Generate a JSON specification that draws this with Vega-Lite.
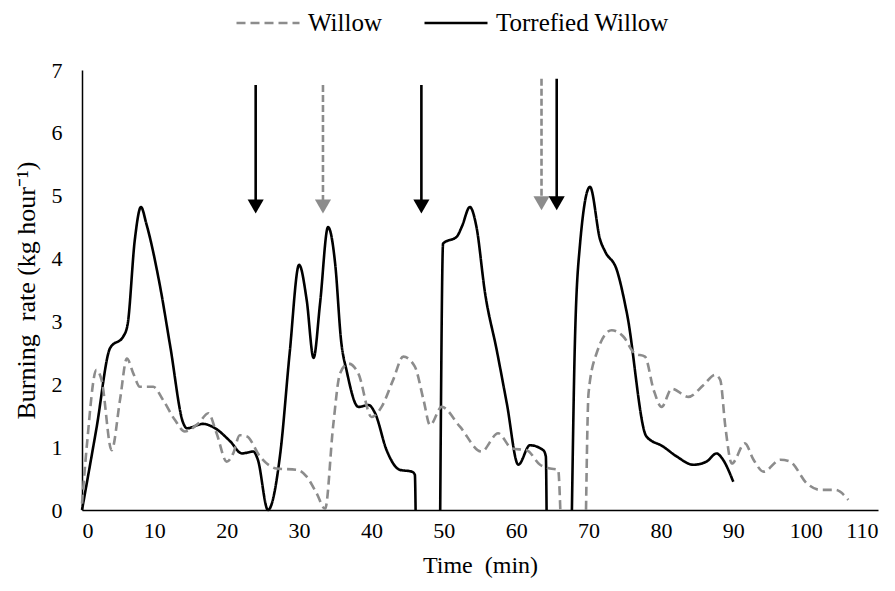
{
  "$schema": "https://vega.github.io/schema/vega-lite/v6.json",
  "width": 796,
  "height": 440,
  "autosize": {"type": "none"},
  "padding": {"left": 82, "top": 70, "right": 17, "bottom": 81},
  "background": "white",
  "config": {
    "view": {"stroke": null},
    "font": "Liberation Serif",
    "axis": {
      "labelFont": "Liberation Serif",
      "titleFont": "Liberation Serif",
      "labelColor": "#000",
      "titleColor": "#000",
      "grid": false,
      "ticks": false,
      "domainColor": "#000",
      "domainWidth": 1.5,
      "titleFontWeight": "normal"
    },
    "legend": {
      "labelFont": "Liberation Serif",
      "labelFontSize": 25,
      "labelColor": "#000",
      "labelLimit": 0,
      "symbolType": "stroke",
      "symbolSize": 3969,
      "symbolStrokeWidth": 2.6,
      "columnPadding": 37,
      "labelOffset": 7,
      "padding": 0
    }
  },
  "datasets": {
    "curves": [
      {"t": 0, "rate": 0, "series": "Torrefied Willow", "part": 1},
      {"t": 2, "rate": 1.3, "series": "Torrefied Willow", "part": 1},
      {"t": 3.9, "rate": 2.58, "series": "Torrefied Willow", "part": 1},
      {"t": 5.7, "rate": 2.76, "series": "Torrefied Willow", "part": 1},
      {"t": 6.3, "rate": 2.95, "series": "Torrefied Willow", "part": 1},
      {"t": 7.3, "rate": 4.3, "series": "Torrefied Willow", "part": 1},
      {"t": 8.15, "rate": 4.82, "series": "Torrefied Willow", "part": 1},
      {"t": 8.9, "rate": 4.55, "series": "Torrefied Willow", "part": 1},
      {"t": 10.8, "rate": 3.55, "series": "Torrefied Willow", "part": 1},
      {"t": 12.2, "rate": 2.6, "series": "Torrefied Willow", "part": 1},
      {"t": 14.0, "rate": 1.38, "series": "Torrefied Willow", "part": 1},
      {"t": 14.5, "rate": 1.3, "series": "Torrefied Willow", "part": 1},
      {"t": 16.7, "rate": 1.37, "series": "Torrefied Willow", "part": 1},
      {"t": 18.4, "rate": 1.3, "series": "Torrefied Willow", "part": 1},
      {"t": 20.5, "rate": 1.09, "series": "Torrefied Willow", "part": 1},
      {"t": 22.1, "rate": 0.9, "series": "Torrefied Willow", "part": 1},
      {"t": 23.7, "rate": 0.93, "series": "Torrefied Willow", "part": 1},
      {"t": 24.3, "rate": 0.8, "series": "Torrefied Willow", "part": 1},
      {"t": 25.7, "rate": 0, "series": "Torrefied Willow", "part": 1},
      {"t": 27.4, "rate": 0.9, "series": "Torrefied Willow", "part": 1},
      {"t": 28.7, "rate": 2.5, "series": "Torrefied Willow", "part": 1},
      {"t": 30.0, "rate": 3.9, "series": "Torrefied Willow", "part": 1},
      {"t": 31.05, "rate": 3.34, "series": "Torrefied Willow", "part": 1},
      {"t": 32.0, "rate": 2.42, "series": "Torrefied Willow", "part": 1},
      {"t": 32.9, "rate": 3.29, "series": "Torrefied Willow", "part": 1},
      {"t": 34.0, "rate": 4.5, "series": "Torrefied Willow", "part": 1},
      {"t": 35.0, "rate": 3.9, "series": "Torrefied Willow", "part": 1},
      {"t": 35.8, "rate": 2.7, "series": "Torrefied Willow", "part": 1},
      {"t": 36.6, "rate": 2.2, "series": "Torrefied Willow", "part": 1},
      {"t": 38.2, "rate": 1.64, "series": "Torrefied Willow", "part": 1},
      {"t": 39.6, "rate": 1.67, "series": "Torrefied Willow", "part": 1},
      {"t": 40.5, "rate": 1.54, "series": "Torrefied Willow", "part": 1},
      {"t": 42.1, "rate": 0.95, "series": "Torrefied Willow", "part": 1},
      {"t": 43.9, "rate": 0.64, "series": "Torrefied Willow", "part": 1},
      {"t": 45.6, "rate": 0.61, "series": "Torrefied Willow", "part": 1},
      {"t": 46.0, "rate": 0.56, "series": "Torrefied Willow", "part": 1},
      {"t": 46.1, "rate": 0, "series": "Torrefied Willow", "part": 1},
      {"t": 49.5, "rate": 0, "series": "Torrefied Willow", "part": 2},
      {"t": 49.9, "rate": 4.24, "series": "Torrefied Willow", "part": 2},
      {"t": 51.8, "rate": 4.35, "series": "Torrefied Willow", "part": 2},
      {"t": 52.5, "rate": 4.51, "series": "Torrefied Willow", "part": 2},
      {"t": 53.6, "rate": 4.82, "series": "Torrefied Willow", "part": 2},
      {"t": 54.5, "rate": 4.51, "series": "Torrefied Willow", "part": 2},
      {"t": 55.7, "rate": 3.45, "series": "Torrefied Willow", "part": 2},
      {"t": 57.3, "rate": 2.55, "series": "Torrefied Willow", "part": 2},
      {"t": 58.7, "rate": 1.7, "series": "Torrefied Willow", "part": 2},
      {"t": 60.3, "rate": 0.72, "series": "Torrefied Willow", "part": 2},
      {"t": 61.9, "rate": 1.03, "series": "Torrefied Willow", "part": 2},
      {"t": 63.75, "rate": 0.95, "series": "Torrefied Willow", "part": 2},
      {"t": 64.1, "rate": 0.85, "series": "Torrefied Willow", "part": 2},
      {"t": 64.2, "rate": 0, "series": "Torrefied Willow", "part": 2},
      {"t": 67.7, "rate": 0, "series": "Torrefied Willow", "part": 3},
      {"t": 68.1, "rate": 2.6, "series": "Torrefied Willow", "part": 3},
      {"t": 68.8, "rate": 4.2, "series": "Torrefied Willow", "part": 3},
      {"t": 70.2, "rate": 5.14, "series": "Torrefied Willow", "part": 3},
      {"t": 71.6, "rate": 4.3, "series": "Torrefied Willow", "part": 3},
      {"t": 72.3, "rate": 4.11, "series": "Torrefied Willow", "part": 3},
      {"t": 73.9, "rate": 3.82, "series": "Torrefied Willow", "part": 3},
      {"t": 75.3, "rate": 3.13, "series": "Torrefied Willow", "part": 3},
      {"t": 78.0, "rate": 1.17, "series": "Torrefied Willow", "part": 3},
      {"t": 80.3, "rate": 1.01, "series": "Torrefied Willow", "part": 3},
      {"t": 82.2, "rate": 0.85, "series": "Torrefied Willow", "part": 3},
      {"t": 84.5, "rate": 0.72, "series": "Torrefied Willow", "part": 3},
      {"t": 86.3, "rate": 0.77, "series": "Torrefied Willow", "part": 3},
      {"t": 87.7, "rate": 0.9, "series": "Torrefied Willow", "part": 3},
      {"t": 88.4, "rate": 0.83, "series": "Torrefied Willow", "part": 3},
      {"t": 90.0, "rate": 0.45, "series": "Torrefied Willow", "part": 3},
      {"t": 0, "rate": 0.1, "series": "Willow", "part": 1},
      {"t": 0.65, "rate": 1.0, "series": "Willow", "part": 1},
      {"t": 2.0, "rate": 2.23, "series": "Willow", "part": 1},
      {"t": 2.7, "rate": 2.07, "series": "Willow", "part": 1},
      {"t": 4.1, "rate": 0.95, "series": "Willow", "part": 1},
      {"t": 5.25, "rate": 1.75, "series": "Willow", "part": 1},
      {"t": 6.2, "rate": 2.41, "series": "Willow", "part": 1},
      {"t": 7.1, "rate": 2.17, "series": "Willow", "part": 1},
      {"t": 8.0, "rate": 1.96, "series": "Willow", "part": 1},
      {"t": 9.85, "rate": 1.96, "series": "Willow", "part": 1},
      {"t": 11.2, "rate": 1.75, "series": "Willow", "part": 1},
      {"t": 12.85, "rate": 1.43, "series": "Willow", "part": 1},
      {"t": 14.2, "rate": 1.25, "series": "Willow", "part": 1},
      {"t": 16.1, "rate": 1.38, "series": "Willow", "part": 1},
      {"t": 17.45, "rate": 1.54, "series": "Willow", "part": 1},
      {"t": 18.6, "rate": 1.22, "series": "Willow", "part": 1},
      {"t": 20.0, "rate": 0.77, "series": "Willow", "part": 1},
      {"t": 20.9, "rate": 0.9, "series": "Willow", "part": 1},
      {"t": 21.8, "rate": 1.19, "series": "Willow", "part": 1},
      {"t": 22.8, "rate": 1.17, "series": "Willow", "part": 1},
      {"t": 24.6, "rate": 0.85, "series": "Willow", "part": 1},
      {"t": 26.9, "rate": 0.66, "series": "Willow", "part": 1},
      {"t": 29.7, "rate": 0.64, "series": "Willow", "part": 1},
      {"t": 31.05, "rate": 0.53, "series": "Willow", "part": 1},
      {"t": 32.4, "rate": 0.27, "series": "Willow", "part": 1},
      {"t": 33.6, "rate": 0.02, "series": "Willow", "part": 1},
      {"t": 34.7, "rate": 1.33, "series": "Willow", "part": 1},
      {"t": 35.65, "rate": 2.17, "series": "Willow", "part": 1},
      {"t": 36.8, "rate": 2.33, "series": "Willow", "part": 1},
      {"t": 38.2, "rate": 2.17, "series": "Willow", "part": 1},
      {"t": 40.0, "rate": 1.48, "series": "Willow", "part": 1},
      {"t": 41.4, "rate": 1.64, "series": "Willow", "part": 1},
      {"t": 43.0, "rate": 2.07, "series": "Willow", "part": 1},
      {"t": 44.4, "rate": 2.44, "series": "Willow", "part": 1},
      {"t": 46.0, "rate": 2.28, "series": "Willow", "part": 1},
      {"t": 47.2, "rate": 1.75, "series": "Willow", "part": 1},
      {"t": 48.1, "rate": 1.35, "series": "Willow", "part": 1},
      {"t": 49.7, "rate": 1.64, "series": "Willow", "part": 1},
      {"t": 52.2, "rate": 1.33, "series": "Willow", "part": 1},
      {"t": 55.2, "rate": 0.93, "series": "Willow", "part": 1},
      {"t": 57.5, "rate": 1.22, "series": "Willow", "part": 1},
      {"t": 59.4, "rate": 0.98, "series": "Willow", "part": 1},
      {"t": 61.45, "rate": 0.95, "series": "Willow", "part": 1},
      {"t": 63.3, "rate": 0.72, "series": "Willow", "part": 1},
      {"t": 64.7, "rate": 0.66, "series": "Willow", "part": 1},
      {"t": 65.8, "rate": 0.64, "series": "Willow", "part": 1},
      {"t": 66.1, "rate": 0, "series": "Willow", "part": 1},
      {"t": 69.65, "rate": 0, "series": "Willow", "part": 2},
      {"t": 70.0, "rate": 1.86, "series": "Willow", "part": 2},
      {"t": 71.1, "rate": 2.49, "series": "Willow", "part": 2},
      {"t": 73.2, "rate": 2.86, "series": "Willow", "part": 2},
      {"t": 74.8, "rate": 2.76, "series": "Willow", "part": 2},
      {"t": 76.4, "rate": 2.49, "series": "Willow", "part": 2},
      {"t": 77.8, "rate": 2.44, "series": "Willow", "part": 2},
      {"t": 79.0, "rate": 1.91, "series": "Willow", "part": 2},
      {"t": 80.1, "rate": 1.64, "series": "Willow", "part": 2},
      {"t": 81.5, "rate": 1.93, "series": "Willow", "part": 2},
      {"t": 83.8, "rate": 1.8, "series": "Willow", "part": 2},
      {"t": 85.9, "rate": 1.99, "series": "Willow", "part": 2},
      {"t": 87.5, "rate": 2.15, "series": "Willow", "part": 2},
      {"t": 88.2, "rate": 2.07, "series": "Willow", "part": 2},
      {"t": 88.9, "rate": 1.33, "series": "Willow", "part": 2},
      {"t": 89.8, "rate": 0.74, "series": "Willow", "part": 2},
      {"t": 91.6, "rate": 1.06, "series": "Willow", "part": 2},
      {"t": 92.8, "rate": 0.8, "series": "Willow", "part": 2},
      {"t": 94.2, "rate": 0.61, "series": "Willow", "part": 2},
      {"t": 96.5, "rate": 0.8, "series": "Willow", "part": 2},
      {"t": 97.85, "rate": 0.77, "series": "Willow", "part": 2},
      {"t": 100.2, "rate": 0.42, "series": "Willow", "part": 2},
      {"t": 102.0, "rate": 0.32, "series": "Willow", "part": 2},
      {"t": 104.1, "rate": 0.32, "series": "Willow", "part": 2},
      {"t": 105.9, "rate": 0.16, "series": "Willow", "part": 2}
    ],
    "arrows": [
      {"t": 24.0, "top": 6.76, "base": 4.9, "head": 4.83, "series": "Torrefied Willow"},
      {"t": 33.3, "top": 6.76, "base": 4.9, "head": 4.83, "series": "Willow"},
      {"t": 46.9, "top": 6.76, "base": 4.9, "head": 4.83, "series": "Torrefied Willow"},
      {"t": 63.5, "top": 6.86, "base": 4.95, "head": 4.88, "series": "Willow"},
      {"t": 65.6, "top": 6.86, "base": 4.95, "head": 4.88, "series": "Torrefied Willow"}
    ]
  },
  "layer": [
    {
      "data": {"name": "curves"},
      "mark": {"type": "line", "interpolate": "monotone", "strokeWidth": 2.6},
      "encoding": {
        "x": {
          "field": "t", "type": "quantitative",
          "scale": {"domain": [0, 110], "nice": false},
          "axis": {
            "title": "Time\u00a0 (min)",
            "values": [0, 10, 20, 30, 40, 50, 60, 70, 80, 90, 100, 110],
            "format": "d",
            "labelFont": "Liberation Serif", "titleFont": "Liberation Serif",
            "labelFontSize": 22, "labelPadding": 10,
            "titleFontSize": 24, "titlePadding": 12
          }
        },
        "y": {
          "field": "rate", "type": "quantitative",
          "scale": {"domain": [0, 7], "nice": false},
          "axis": {
            "title": "Burning\u00a0 rate (kg hour⁻¹)",
            "values": [0, 1, 2, 3, 4, 5, 6, 7],
            "format": "d",
            "labelFont": "Liberation Serif", "titleFont": "Liberation Serif",
            "labelFontSize": 22, "labelPadding": 20,
            "titleFontSize": 26, "titlePadding": 12
          }
        },
        "detail": {"field": "part"},
        "color": {
          "field": "series", "type": "nominal",
          "scale": {"domain": ["Willow", "Torrefied Willow"], "range": ["#8c8c8c", "#000000"]},
          "legend": {
            "orient": "none", "legendX": 153, "legendY": -80,
            "direction": "horizontal", "title": null,
            "labelFont": "Liberation Serif"
          }
        },
        "strokeDash": {
          "field": "series", "type": "nominal",
          "scale": {"domain": ["Willow", "Torrefied Willow"], "range": [[9, 5], [1, 0]]},
          "legend": {
            "orient": "none", "legendX": 153, "legendY": -80,
            "direction": "horizontal", "title": null,
            "labelFont": "Liberation Serif"
          }
        }
      }
    },
    {
      "data": {"name": "arrows"},
      "mark": {"type": "rule", "strokeWidth": 2.6},
      "encoding": {
        "x": {"field": "t", "type": "quantitative"},
        "y": {"field": "top", "type": "quantitative"},
        "y2": {"field": "base"},
        "color": {"condition": {"test": "datum.series === 'Willow'", "value": "#8c8c8c"}, "value": "#000000"},
        "strokeDash": {"condition": {"test": "datum.series === 'Willow'", "value": [7, 3]}, "value": [1, 0]}
      }
    },
    {
      "data": {"name": "arrows"},
      "mark": {"type": "point", "shape": "triangle-down", "filled": true, "size": 260, "opacity": 1},
      "encoding": {
        "x": {"field": "t", "type": "quantitative"},
        "y": {"field": "head", "type": "quantitative"},
        "color": {"condition": {"test": "datum.series === 'Willow'", "value": "#8c8c8c"}, "value": "#000000"}
      }
    }
  ]
}
